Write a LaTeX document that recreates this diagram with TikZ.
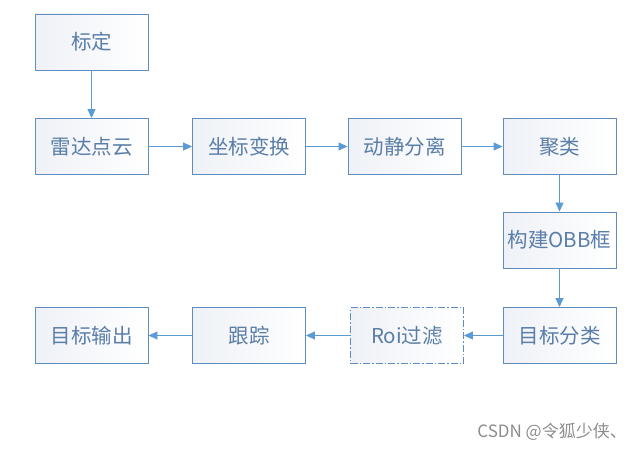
\documentclass[tikz,border=0pt]{standalone}
\usepackage{fontspec}
\newfontfamily\cjk{Noto Sans CJK SC}
\setmainfont{Liberation Sans}
\usetikzlibrary{arrows.meta}
\definecolor{bord}{HTML}{5F8DC0}
\definecolor{txt}{HTML}{5A7EA8}
\definecolor{arr}{HTML}{5B9BD5}
\definecolor{fillc}{HTML}{EEF1F6}
\begin{document}
\begin{tikzpicture}[x=1pt,y=-1pt,
  stepbox/.style={draw=bord, line width=0.9pt, minimum width=113pt, minimum height=56pt,
    inner sep=0pt, left color=fillc, right color=white, text=txt,
    font=\cjk\fontsize{20.5}{22}\selectfont},
  dashbox/.style={stepbox, dash pattern=on 7pt off 2pt on 1.5pt off 2pt},
  conn/.style={draw=arr, line width=0.9pt, -{Triangle[length=9pt,width=8pt]}}]
\useasboundingbox (0,0) rectangle (640,452);
\node[stepbox] (cal) at (91.5,42) {标定};
\node[stepbox] (radar) at (91.5,146.5) {雷达点云};
\node[stepbox] (coord) at (249,146.5) {坐标变换};
\node[stepbox] (sep) at (404.5,146.5) {动静分离};
\node[stepbox] (clus) at (559.5,146.5) {聚类};
\node[stepbox] (obb) at (559.5,240) {构建OBB框};
\node[stepbox] (cls) at (559.5,335.5) {目标分类};
\node[dashbox] (roi) at (407,335.5) {Roi过滤};
\node[stepbox] (trk) at (249,335.5) {跟踪};
\node[stepbox] (out) at (91.5,335.5) {目标输出};
\draw[conn] (cal) -- (radar);
\draw[conn] (radar) -- (coord);
\draw[conn] (coord) -- (sep);
\draw[conn] (sep) -- (clus);
\draw[conn] (clus) -- (obb);
\draw[conn] (obb) -- (cls);
\draw[conn] (cls) -- (roi);
\draw[conn] (roi) -- (trk);
\draw[conn] (trk) -- (out);
\node[text=black!45, font=\cjk\fontsize{17}{19}\selectfont, anchor=east, inner sep=0pt] (wm) at (627,432) {CSDN @令狐少侠、};
\end{tikzpicture}
\end{document}
